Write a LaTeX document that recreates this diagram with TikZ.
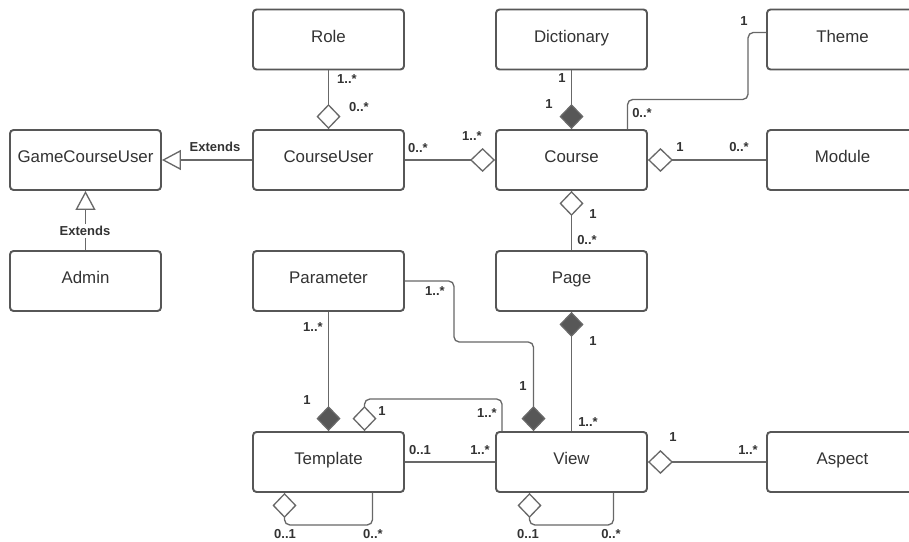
\documentclass[tikz,border=0pt]{standalone}
\usepackage{fontspec}
\setmainfont{Liberation Sans}
\usepackage{xcolor}
\usetikzlibrary{arrows.meta}
\usetikzlibrary{calc}
\definecolor{clsgray}{HTML}{575757}
\definecolor{lngray}{HTML}{686868}
\definecolor{txtgray}{HTML}{333333}
\tikzset{%
	cls/.style={rectangle,rounded corners=2pt,draw=clsgray,line width=1.1,minimum width=3.02cm,minimum height=1.2cm,fill=white,text=txtgray,text height=7pt,text depth=3.6pt,font=\fontsize{9.6}{11}\selectfont},
	lnk/.style={draw=lngray,line width=0.75,rounded corners=3pt},
	agg/.style={lnk,arrows={-Diamond[open,fill=white,length=0.5cm,width=0.48cm]}},
	comp/.style={lnk,arrows={-Diamond[fill=clsgray,length=0.5cm,width=0.48cm]}},
	ext/.style={lnk,arrows={-Triangle[open,fill=white,length=0.38cm,width=0.4cm]}},
	mult/.style={inner sep=1pt,text=txtgray,font=\bfseries\fontsize{7.4}{9}\selectfont},
}

\begin{document}
\begin{tikzpicture}[x=0.02cm,y=-0.02cm]
	\useasboundingbox[fill=white] (0,0) rectangle (909,541);
	% classes
	\node (role) at (328.5,39.5) [cls] {Role};
	\node (dict) at (571.5,39.5) [cls] {Dictionary};
	\node (theme) at (842.5,39.5) [cls] {Theme};
	\node (gcu) at (85.5,160) [cls] {GameCourseUser};
	\node (cu) at (328.5,160) [cls] {CourseUser};
	\node (course) at (571.5,160) [cls] {Course};
	\node (module) at (842.5,160) [cls] {Module};
	\node (admin) at (85.5,281) [cls] {Admin};
	\node (param) at (328.5,281) [cls] {Parameter};
	\node (page) at (571.5,281) [cls] {Page};
	\node (tmpl) at (328.5,462) [cls] {Template};
	\node (view) at (571.5,462) [cls] {View};
	\node (aspect) at (842.5,462) [cls] {Aspect};
	
	% relations
	\draw[agg] (role) -- (cu);
	\draw[comp] (dict) -- (course);
	\draw[lnk] ([yshift=4pt]theme.west) -| ++(-18,67) -| ($(course.north)+(56,0)$);
	\draw[agg] (cu) -- (course);
	\draw[agg] (module) -- (course);
	\draw[ext] (cu) -- (gcu);
	\draw[ext] (admin) -- (gcu);
	\draw[agg] (page) -- (course);
	\draw[comp] (param.east) -| ++(49,61) -| ($(view.north)+(-38,0)$);
	\draw[comp] (param) -- (tmpl);
	\draw[comp] (view) -- (page);
	\draw[agg] ($(view.north west)+(7,0)$) -- ++(0,-32) -| ($(tmpl.north)+(36,0)$);
	\draw[lnk] (tmpl) -- (view);
	\draw[agg] (aspect) -- (view);
	\draw[agg] ($(tmpl.south)+(44,0)$) -- ++(0,32) -| ($(tmpl.south)+(-44,0)$);
	\draw[agg] ($(view.south)+(42,0)$) -- ++(0,32) -| ($(view.south)+(-42,0)$);
	
	% labels
	\node (e1) at (215,147) [mult] {Extends};
	\node (e2) at (85,231) [mult,fill=white] {Extends};
	\node (m1) at (347,79) [mult] {1..*};
	\node (m2) at (359,107) [mult] {0..*};
	\node (m3) at (562,78) [mult] {1};
	\node (m4) at (549,104) [mult] {1};
	\node (m5) at (744,21) [mult] {1};
	\node (m6) at (642,113) [mult] {0..*};
	\node (m7) at (418,148) [mult] {0..*};
	\node (m8) at (472,136) [mult] {1..*};
	\node (m9) at (680,147) [mult] {1};
	\node (m10) at (739,147) [mult] {0..*};
	\node (m11) at (593,214) [mult] {1};
	\node (m12) at (587,240) [mult] {0..*};
	\node (m13) at (435,291) [mult] {1..*};
	\node (m14) at (313,327) [mult] {1..*};
	\node (m15) at (593,341) [mult] {1};
	\node (m16) at (523,386) [mult] {1};
	\node (m17) at (307,400) [mult] {1};
	\node (m18) at (382,411) [mult] {1};
	\node (m19) at (487,413) [mult] {1..*};
	\node (m20) at (588,422) [mult] {1..*};
	\node (m21) at (420,450) [mult] {0..1};
	\node (m22) at (480,450) [mult] {1..*};
	\node (m23) at (673,437) [mult] {1};
	\node (m24) at (748,450) [mult] {1..*};
	\node (m25) at (285,534) [mult] {0..1};
	\node (m26) at (373,534) [mult] {0..*};
	\node (m27) at (528,534) [mult] {0..1};
	\node (m28) at (611,534) [mult] {0..*};
\end{tikzpicture}
\end{document}
